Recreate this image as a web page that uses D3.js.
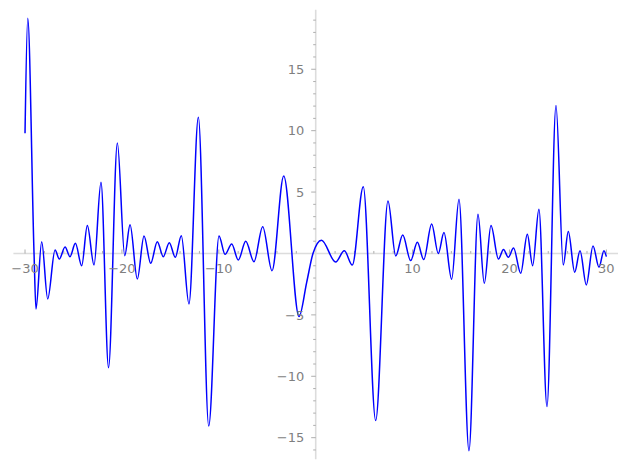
<!DOCTYPE html>
<html>
<head>
<meta charset="utf-8">
<script src="https://cdn.jsdelivr.net/npm/d3@7"></script>
<style>
  html, body { margin: 0; padding: 0; background: #fff; }
  svg { display: block; }
  text { font-family: "DejaVu Sans", sans-serif; }
</style>
</head>
<body>
<svg id="chart" width="627" height="470"></svg>
<script>
// curve samples (x, y): extrema and a few crossings
const xValues = [
  -30.00, -29.72, -29.07, -28.87, -28.28, -27.66, -26.90, -26.46, -25.87, -25.36,
  -24.80, -24.15, -23.57, -22.88, -22.16, -21.38, -20.47, -19.71, -19.16, -18.41,
  -17.72, -17.03, -16.35, -15.73, -15.11, -14.49, -13.87, -13.08, -12.11, -11.04,
  -9.98, -9.36, -8.67, -7.99, -7.22, -6.37, -5.47, -4.51, -3.30, -1.72,
  -0.93, -0.28, 0.60, 2.06, 2.95, 3.78, 4.91, 6.19, 7.46, 8.26,
  8.98, 9.80, 10.49, 11.15, 11.97, 12.65, 13.24, 14.03, 14.79, 15.82,
  16.75, 17.40, 18.09, 18.86, 19.38, 19.88, 20.42, 21.16, 21.84, 22.39,
  23.04, 23.87, 24.80, 25.55, 26.07, 26.73, 27.28, 27.93, 28.62, 29.24,
  29.75, 30.00
];
const yValues = [
  9.79, 19.15, 0.00, -4.52, 0.96, -3.70, 0.28, -0.45, 0.53, -0.26,
  0.83, -1.00, 2.27, -0.94, 5.80, -9.30, 9.00, -0.18, 2.33, -2.08,
  1.42, -0.80, 0.96, -0.26, 0.88, -0.31, 1.45, -4.11, 11.09, -14.05,
  1.42, -0.07, 0.77, -0.53, 0.99, -0.67, 2.18, -1.40, 6.31, -5.14,
  -2.35, 0.00, 1.08, -0.70, 0.22, -0.94, 5.44, -13.60, 4.28, -0.20,
  1.50, -0.58, 0.91, -0.50, 2.40, 0.00, 1.70, -2.10, 4.41, -16.06,
  3.19, -2.43, 2.27, -0.45, 0.32, -0.31, 0.44, -1.61, 1.56, -0.99,
  3.60, -12.47, 12.04, -0.94, 1.78, -1.53, 0.23, -2.56, 0.61, -1.12,
  0.23, -0.26
];
const xMajorTicks = [-30, -20, -10, 10, 20, 30];
const yMajorTicks = [-15, -10, -5, 5, 10, 15];
const xMinorStep = 2;
const yMinorStep = 1;

const W = 627, H = 470;
const svg = d3.select("#chart");

const xDomain = [-31.2, 31.2];
const yDomain = [-16.76, 19.85];
const x = d3.scaleLinear().domain(xDomain).range([13.4, 618.0]);
const y = d3.scaleLinear().domain(yDomain).range([459.3, 9.7]);

const axisColor = "#dcdcdc";
const tickColor = "#9a9a9a";
const labelColor = "#7f7f7f";

// axis lines
svg.append("line")
  .attr("x1", x(xDomain[0])).attr("x2", x(xDomain[1]))
  .attr("y1", y(0)).attr("y2", y(0))
  .attr("stroke", axisColor).attr("stroke-width", 1.6);
svg.append("line")
  .attr("x1", x(0)).attr("x2", x(0))
  .attr("y1", y(yDomain[0])).attr("y2", y(yDomain[1]))
  .attr("stroke", axisColor).attr("stroke-width", 1.6);

// x ticks (pointing up)
const xMinor = d3.range(-30, 30.001, xMinorStep).filter(v => v % 10 !== 0);
svg.append("g").selectAll("line.xmin").data(xMinor).join("line")
  .attr("x1", d => x(d)).attr("x2", d => x(d))
  .attr("y1", y(0)).attr("y2", y(0) - 2.5)
  .attr("stroke", tickColor).attr("stroke-width", 0.8);
svg.append("g").selectAll("line.xmaj").data(xMajorTicks).join("line")
  .attr("x1", d => x(d)).attr("x2", d => x(d))
  .attr("y1", y(0)).attr("y2", y(0) - 4)
  .attr("stroke", tickColor).attr("stroke-width", 0.8);

// y ticks (pointing left)
const yMinor = d3.range(-16, 19.001, yMinorStep).filter(v => v % 5 !== 0);
svg.append("g").selectAll("line.ymin").data(yMinor).join("line")
  .attr("x1", x(0)).attr("x2", x(0) - 2.5)
  .attr("y1", d => y(d)).attr("y2", d => y(d))
  .attr("stroke", tickColor).attr("stroke-width", 0.8);
svg.append("g").selectAll("line.ymaj").data(yMajorTicks).join("line")
  .attr("x1", x(0)).attr("x2", x(0) - 4.5)
  .attr("y1", d => y(d)).attr("y2", d => y(d))
  .attr("stroke", tickColor).attr("stroke-width", 0.8);

const fmt = d => (d < 0 ? "\u2212" : "") + Math.abs(d);

// curve
const pts = xValues.map((v, i) => [v, yValues[i]]);
const line = d3.line().x(d => x(d[0])).y(d => y(d[1])).curve(d3.curveMonotoneX);
svg.append("path").datum(pts)
  .attr("d", line)
  .attr("fill", "none")
  .attr("stroke", "#0000ff")
  .attr("stroke-width", 1.5);

// labels
svg.append("g").selectAll("text.xl").data(xMajorTicks).join("text")
  .attr("x", d => x(d)).attr("y", y(0) + 19.5)
  .attr("text-anchor", "middle")
  .attr("font-size", 13)
  .attr("fill", labelColor)
  .text(fmt);
svg.append("g").selectAll("text.yl").data(yMajorTicks).join("text")
  .attr("x", x(0) - 11.5).attr("y", d => y(d) + 4.7)
  .attr("text-anchor", "end")
  .attr("font-size", 13)
  .attr("fill", labelColor)
  .text(fmt);
</script>
</body>
</html>
